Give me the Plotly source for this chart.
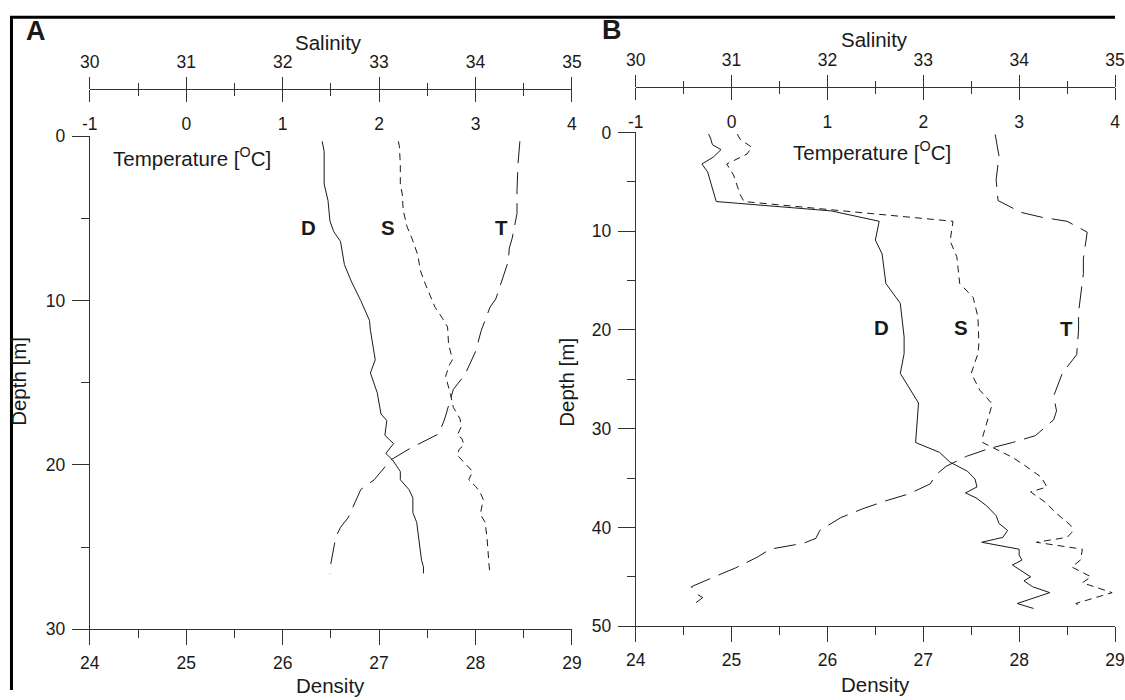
import plotly.graph_objects as go

# ---------------- data ----------------
# Panel A
A_D_depth = [0.3, 0.9, 2.9, 3.9, 5.15, 5.8, 6.4, 7.8, 8.8, 10.0, 11.2, 11.8, 13.6, 14.4, 15.6, 16.9, 17.3, 18.2, 18.7, 19.3, 19.7, 20.4, 20.9, 21.5, 22.0, 22.9, 23.5, 24.5, 25.4, 25.8, 26.2, 26.6]
A_D_density = [26.41, 26.43, 26.43, 26.47, 26.49, 26.53, 26.60, 26.64, 26.71, 26.81, 26.90, 26.91, 26.96, 26.91, 26.98, 27.02, 27.08, 27.06, 27.15, 27.07, 27.14, 27.22, 27.22, 27.31, 27.35, 27.35, 27.39, 27.41, 27.43, 27.44, 27.46, 27.46]

A_S_depth = [0.3, 0.6, 1.7, 2.9, 3.5, 4.5, 5.5, 6.2, 7.2, 8.2, 9.0, 9.6, 10.4, 11.1, 11.6, 12.6, 13.2, 13.6, 13.9, 14.6, 15.7, 16.5, 17.2, 17.7, 18.2, 18.4, 18.8, 19.05, 19.4, 20.4, 20.9, 21.3, 21.7, 22.1, 23.0, 23.5, 24.5, 25.6, 26.1, 26.6]
A_S_salinity = [33.20, 33.21, 33.22, 33.22, 33.24, 33.25, 33.29, 33.34, 33.40, 33.43, 33.48, 33.52, 33.58, 33.66, 33.71, 33.72, 33.74, 33.76, 33.73, 33.69, 33.74, 33.77, 33.84, 33.85, 33.81, 33.86, 33.88, 33.83, 33.81, 33.97, 33.93, 34.00, 34.05, 34.08, 34.05, 34.10, 34.12, 34.13, 34.14, 34.15]

A_T_depth = [0.3, 1.7, 3.3, 4.7, 6.2, 6.8, 7.6, 9.0, 9.9, 10.4, 11.8, 13.1, 14.5, 15.4, 17.2, 18.1, 18.3, 19.0, 19.7, 20.9, 21.5, 21.9, 23.2, 23.8, 24.4, 26.0, 26.6]
A_T_temp = [3.46, 3.44, 3.43, 3.43, 3.38, 3.35, 3.34, 3.26, 3.21, 3.15, 3.06, 3.00, 2.89, 2.77, 2.68, 2.62, 2.55, 2.32, 2.12, 1.95, 1.81, 1.78, 1.68, 1.60, 1.55, 1.50, 1.49]

# Panel B
B_D_depth = [0.17, 0.57, 1.24, 1.74, 2.5, 3.2, 4.0, 7.0, 7.95, 9.0, 10.9, 12.3, 15.3, 17.3, 20.7, 22.4, 24.4, 27.4, 31.4, 32.4, 33.4, 34.3, 35.1, 35.9, 36.5, 37.0, 37.8, 38.8, 39.6, 40.3, 41.0, 41.5, 42.2, 42.8, 43.3, 43.8, 45.0, 45.4, 46.0, 46.6, 47.7, 48.2]
B_D_density = [24.76, 24.78, 24.80, 24.89, 24.81, 24.69, 24.75, 24.84, 26.04, 26.54, 26.50, 26.57, 26.61, 26.76, 26.80, 26.80, 26.76, 26.95, 26.92, 27.17, 27.28, 27.46, 27.54, 27.56, 27.44, 27.55, 27.66, 27.76, 27.79, 27.88, 27.83, 27.61, 28.00, 28.00, 28.03, 27.93, 28.12, 28.05, 28.14, 28.32, 27.98, 28.15]

B_S_depth = [0.17, 0.7, 1.5, 2.2, 3.2, 4.3, 6.3, 7.0, 9.0, 11.0, 12.6, 15.3, 16.7, 18.7, 21.4, 22.4, 24.4, 26.1, 27.5, 30.8, 31.4, 32.9, 33.8, 34.9, 35.9, 36.4, 37.5, 38.5, 39.8, 40.5, 41.0, 41.5, 42.2, 43.3, 44.0, 45.0, 45.6, 46.6, 47.7, 48.0]
B_S_salinity = [31.06, 31.09, 31.21, 31.16, 30.95, 31.02, 31.09, 31.13, 33.31, 33.28, 33.35, 33.38, 33.52, 33.57, 33.58, 33.57, 33.50, 33.59, 33.72, 33.62, 33.62, 33.93, 34.07, 34.23, 34.29, 34.12, 34.28, 34.38, 34.54, 34.55, 34.50, 34.18, 34.66, 34.64, 34.55, 34.75, 34.66, 34.97, 34.59, 34.66]

B_T_depth = [0.2, 2.4, 4.8, 6.9, 8.1, 8.6, 9.0, 10.1, 12.8, 14.3, 18.2, 20.0, 22.5, 24.4, 26.7, 28.2, 29.1, 30.7, 31.4, 32.0, 32.8, 33.8, 34.6, 35.6, 36.6, 37.3, 38.1, 39.0, 40.3, 41.1, 41.6, 42.0, 42.2, 43.0, 44.1, 45.0, 46.0, 46.7, 47.1, 47.6]
B_T_temp = [2.75, 2.79, 2.76, 2.78, 3.02, 3.24, 3.50, 3.71, 3.67, 3.67, 3.62, 3.62, 3.60, 3.45, 3.36, 3.39, 3.36, 3.17, 2.93, 2.69, 2.45, 2.24, 2.14, 2.07, 1.85, 1.61, 1.37, 1.14, 0.92, 0.88, 0.75, 0.49, 0.40, 0.27, 0.04, -0.18, -0.42, -0.37, -0.30, -0.37]

density_range = [24, 29]
salinity_range = [30, 35]
temp_range = [-1, 4]
depth_range_A = [30, 0]
depth_range_B = [50, 0]
temp_tickvals = [-1, 0, 1, 2, 3, 4]
temp_ticktext = ["-1", "0", "1", "2", "3", "4"]

# ---------------- layout helpers ----------------
W, H = 1125, 700
# page keeps an 8px body margin; map a wanted picture position r to figure px
KX, KY, OFF = (W + 16) / W, (H + 16) / H, 8
def fx(r):
    return r * KX - OFF
def fy(r):
    return r * KY - OFF
def px_x(r):
    return min(max(fx(r) / W, 0.0), 1.0)
def px_y(r):
    return min(max((H - fy(r)) / H, 0.0), 1.0)

A_X0, A_X1, A_Y0, A_Y1, A_TOP = 88, 572, 135, 631, 87
B_X0, B_X1, B_Y0, B_Y1, B_TOP = 636, 1120, 131, 628, 85

FONT = "Liberation Sans, Arial, sans-serif"
LC = "#333333"
INK = "#1a1a1a"
tickfont = dict(family=FONT, size=17.5, color=INK)

def bottom_axis(x0, x1, anchor):
    return dict(domain=[px_x(x0), px_x(x1)], anchor=anchor, range=density_range, side="bottom",
                showline=True, linecolor=LC, linewidth=1, mirror=False,
                ticks="outside", ticklen=15, tickwidth=1, tickcolor=LC, tick0=24, dtick=1,
                tickfont=tickfont, ticklabelstandoff=3, ticklabeloverflow="allow",
                minor=dict(ticks="outside", ticklen=8, tickwidth=1, tickcolor=LC, dtick=0.5, tick0=24, showgrid=False),
                showgrid=False, zeroline=False, fixedrange=True)

def depth_axis(y0, y1, anchor, rng):
    return dict(domain=[px_y(y1), px_y(y0)], anchor=anchor, range=rng, side="left",
                showline=True, linecolor=LC, linewidth=1,
                ticks="outside", ticklen=17, tickwidth=1, tickcolor=LC, tick0=0, dtick=10,
                tickfont=tickfont, ticklabelstandoff=3, ticklabeloverflow="allow",
                minor=dict(ticks="outside", ticklen=8, tickwidth=1, tickcolor=LC, dtick=5, tick0=0, showgrid=False),
                showgrid=False, zeroline=False, fixedrange=True)

def sal_axis(over, top):
    return dict(overlaying=over, anchor="free", position=px_y(top), side="top", range=salinity_range,
                showline=True, linecolor=LC, linewidth=1,
                ticks="outside", ticklen=12, tickwidth=1, tickcolor=LC, tick0=30, dtick=1,
                tickfont=tickfont, ticklabelstandoff=2, ticklabeloverflow="allow",
                minor=dict(ticks="outside", ticklen=6, tickwidth=1, tickcolor=LC, dtick=0.5, tick0=30, showgrid=False),
                showgrid=False, zeroline=False, fixedrange=True)

def temp_axis(over, top):
    return dict(overlaying=over, anchor="free", position=px_y(top), side="bottom", range=temp_range,
                showline=True, linecolor=LC, linewidth=1,
                ticks="outside", ticklen=12, tickwidth=1, tickcolor=LC,
                tickvals=temp_tickvals, ticktext=temp_ticktext,
                tickfont=tickfont, ticklabelstandoff=7, ticklabeloverflow="allow",
                minor=dict(ticks="outside", ticklen=6, tickwidth=1, tickcolor=LC, dtick=0.5, tick0=-1, showgrid=False),
                showgrid=False, zeroline=False, fixedrange=True)

fig = go.Figure()
line_solid = dict(color=INK, width=1)
line_S = dict(color=INK, width=1, dash="7px,5px")
line_T = dict(color=INK, width=1, dash="22px,9px")

# Panel A
fig.add_trace(go.Scatter(x=A_D_density, y=A_D_depth, mode="lines", line=line_solid, xaxis="x", yaxis="y", name="D"))
fig.add_trace(go.Scatter(x=A_S_salinity, y=A_S_depth, mode="lines", line=line_S, xaxis="x3", yaxis="y", name="S"))
fig.add_trace(go.Scatter(x=A_T_temp, y=A_T_depth, mode="lines", line=line_T, xaxis="x4", yaxis="y", name="T"))
# Panel B
fig.add_trace(go.Scatter(x=B_D_density, y=B_D_depth, mode="lines", line=line_solid, xaxis="x2", yaxis="y2", name="D"))
fig.add_trace(go.Scatter(x=B_S_salinity, y=B_S_depth, mode="lines", line=line_S, xaxis="x5", yaxis="y2", name="S"))
fig.add_trace(go.Scatter(x=B_T_temp, y=B_T_depth, mode="lines", line=line_T, xaxis="x6", yaxis="y2", name="T"))

def ann(text, x, y, size=20.5, bold=False, rot=0, xanchor="center"):
    t = f"<b>{text}</b>" if bold else text
    return dict(text=t, x=px_x(x), y=px_y(y), xref="paper", yref="paper", showarrow=False,
                xanchor=xanchor, yanchor="middle", textangle=rot,
                font=dict(family=FONT, size=size, color=INK))

annotations = [
    ann("A", 34, 29, size=27, bold=True),
    ann("B", 612, 28, size=27, bold=True),
    ann("Salinity", 328, 41),
    ann("Salinity", 876, 38),
    ann("Temperature [<sup>O</sup>C]", 109, 156, xanchor="left"),
    ann("Temperature [<sup>O</sup>C]", 792, 150, xanchor="left"),
    ann("Density", 330, 688),
    ann("Density", 877, 687),
    ann("Depth [m]", 17, 382, rot=-90),
    ann("Depth [m]", 567, 382, rot=-90),
    ann("D", 308, 227, size=20.5, bold=True),
    ann("S", 387, 227, size=20.5, bold=True),
    ann("T", 501, 227, size=20.5, bold=True),
    ann("D", 883, 327, size=20.5, bold=True),
    ann("S", 963, 327, size=20.5, bold=True),
    ann("T", 1068, 328, size=20.5, bold=True),
]

shapes = [
    dict(type="line", xref="paper", yref="paper", x0=0, x1=1, y0=px_y(15), y1=px_y(15),
         line=dict(color="black", width=3)),
    dict(type="line", xref="paper", yref="paper", x0=1.5 / W, x1=1.5 / W, y0=0, y1=px_y(14),
         line=dict(color="black", width=3)),
]

fig.update_layout(
    width=W, height=H, autosize=False,
    margin=dict(l=0, r=0, t=0, b=0, pad=0),
    paper_bgcolor="white", plot_bgcolor="white",
    showlegend=False,
    xaxis=bottom_axis(A_X0, A_X1, "y"),
    yaxis=depth_axis(A_Y0, A_Y1, "x", depth_range_A),
    xaxis2=bottom_axis(B_X0, B_X1, "y2"),
    yaxis2=depth_axis(B_Y0, B_Y1, "x2", depth_range_B),
    xaxis3=sal_axis("x", A_TOP),
    xaxis4=temp_axis("x", A_TOP),
    xaxis5=sal_axis("x2", B_TOP),
    xaxis6=temp_axis("x2", B_TOP),
    annotations=annotations,
    shapes=shapes,
    font=dict(family=FONT, color=INK),
)

fig.write_html("out.html", config={"displayModeBar": False, "responsive": False})
